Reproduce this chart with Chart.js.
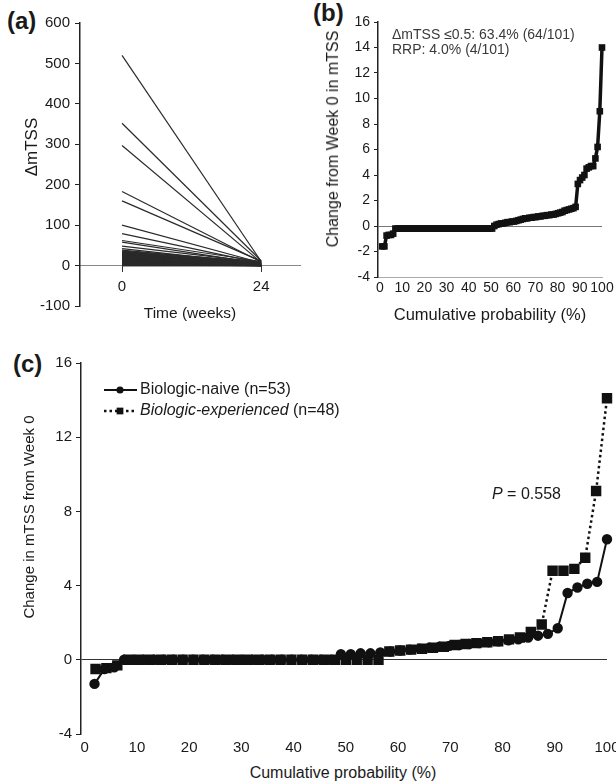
<!DOCTYPE html>
<html>
<head>
<meta charset="utf-8">
<script src="https://cdn.jsdelivr.net/npm/chart.js@4.4.1/dist/chart.umd.min.js"></script>
<style>
  body { margin: 0; width: 616px; height: 782px; position: relative; overflow: hidden; background: #fff;
         font-family: 'Liberation Sans', Arial, sans-serif; color: #1a1a1a; }
  canvas { position: absolute; }
  .tag { position: absolute; font-weight: bold; font-size: 24px; line-height: 1; }
  .title { position: absolute; white-space: nowrap; line-height: 1; transform: translate(-50%, -50%); }
  .ytitle { transform: translate(-50%, -50%) rotate(-90deg); }
</style>
</head>
<body>
<div class="tag" style="left:7px;top:9px">(a)</div>
<div class="tag" style="left:313px;top:1px">(b)</div>
<div class="tag" style="left:13px;top:352px">(c)</div>

<canvas id="chartA" width="310" height="320" style="left:0;top:0"></canvas>
<canvas id="chartB" width="330" height="300" style="left:300px;top:0"></canvas>
<canvas id="chartC" width="640" height="420" style="left:0;top:340px"></canvas>

<div class="title ytitle" style="left:31px;top:147px;font-size:17px">ΔmTSS</div>
<div class="title" style="left:190px;top:313px;font-size:15.5px">Time (weeks)</div>
<div class="title ytitle" style="left:333px;top:139px;font-size:16px">Change from Week 0 in mTSS</div>
<div class="title" style="left:490px;top:314px;font-size:16.5px">Cumulative probability (%)</div>
<div class="title ytitle" style="left:28px;top:517px;font-size:15px">Change in mTSS from Week 0</div>
<div class="title" style="left:343px;top:773px;font-size:16px">Cumulative probability (%)</div>

<script>
// panel (a): individual patients, week 0 -> week 24
const weekTicks = [0, 24];
const week0Values = [520, 352, 297, 183, 160, 100, 79, 62, 58, 48,
  42, 38, 36, 35, 34, 33, 32, 31, 30, 29,
  28, 27, 26, 25, 24, 23, 22, 21, 20, 19,
  18, 17, 16, 15, 14, 13, 12, 11, 10, 9,
  8, 7, 6, 5, 4, 3, 2, 1, 0, 0];
const week24Values = [10, 12, 8, 9, 11, 7, 6, 10, 5, 8,
  4, 6, 9, 3, 7, 5, 2, 8, 4, 6,
  3, 5, 1, 7, 2, 4, 6, 0, 3, 5,
  1, 2, 4, 0, 3, 1, 2, 0, 1, 3,
  0, 2, 1, 0, 1, 0, 0, 0, 0, 0];

// panel (b): all patients (n=101), sorted change
const changeAll = [-1.6, -1.6, -0.75, -0.7, -0.7, -0.6,
  -0.2, -0.2, -0.2, -0.2, -0.2, -0.2, -0.2, -0.2, -0.2, -0.2, -0.2, -0.2, -0.2, -0.2, -0.2,
  -0.2, -0.2, -0.2, -0.2, -0.2, -0.2, -0.2, -0.2, -0.2, -0.2, -0.2, -0.2, -0.2, -0.2, -0.2,
  -0.2, -0.2, -0.2, -0.2, -0.2, -0.2, -0.2, -0.2, -0.2, -0.2, -0.2, -0.2, -0.2, -0.2, -0.2,
  0.0, 0.1, 0.15, 0.2, 0.2, 0.25, 0.3, 0.3, 0.35, 0.35, 0.4, 0.45, 0.5,
  0.55, 0.6, 0.6, 0.65, 0.65, 0.7, 0.7, 0.75, 0.75, 0.8, 0.8, 0.85, 0.85,
  0.9, 0.9, 0.95, 1.0, 1.05, 1.1, 1.2, 1.25, 1.3, 1.35, 1.4, 1.5,
  3.3, 3.6, 3.8, 4.0, 4.5, 4.6, 4.7, 4.7, 5.3, 6.2, 9.0, 14.0];
const notesB = ['ΔmTSS ≤0.5: 63.4% (64/101)', 'RRP: 4.0% (4/101)'];

// panel (c): by prior biologic use
const changeNaive = [-1.3, -0.5, -0.4,
  0, 0, 0, 0, 0, 0, 0, 0, 0, 0, 0, 0, 0, 0, 0, 0, 0, 0, 0, 0, 0, 0,
  0.3, 0.3, 0.35, 0.35, 0.4, 0.45, 0.5, 0.55, 0.6, 0.65, 0.7, 0.75, 0.8, 0.85,
  0.9, 0.95, 1.0, 1.05, 1.1, 1.2, 1.3, 1.4, 1.7, 3.6, 3.9, 4.1, 4.2, 6.5];
const changeExperienced = [-0.5, -0.45, -0.3,
  0, 0, 0, 0, 0, 0, 0, 0, 0, 0, 0, 0, 0, 0, 0, 0, 0, 0, 0, 0, 0, 0, 0, 0,
  0.45, 0.5, 0.55, 0.6, 0.65, 0.7, 0.8, 0.85, 0.9, 0.95, 1.0, 1.1, 1.2,
  1.5, 1.9, 4.8, 4.8, 4.9, 5.5, 9.1, 14.1];
const groupNames = ['Biologic-naive', 'Biologic-experienced'];
const groupCounts = ['(n=53)', '(n=48)'];
const pValueText = '0.558';

const FONT = "'Liberation Sans', Arial, sans-serif";
const INK = '#1a1a1a';
Chart.defaults.font.family = FONT;
Chart.defaults.color = INK;

// sorted values -> cumulative probability points
function cumulative(values) {
  return values.map((v, i) => ({ x: (i + 1) / values.length * 100, y: v }));
}

const baseOptions = {
  responsive: false,
  animation: false,
  events: [],
  plugins: { legend: { display: false }, tooltip: { enabled: false } }
};

// (a)
new Chart(document.getElementById('chartA'), {
  type: 'line',
  data: {
    datasets: week0Values.map((v, i) => ({
      data: [{ x: weekTicks[0], y: v }, { x: weekTicks[1], y: week24Values[i] }],
      borderColor: '#2a2a2a',
      borderWidth: 1.2,
      pointRadius: 0
    }))
  },
  options: {
    ...baseOptions,
    layout: { padding: { left: 0, right: 10, top: 23, bottom: 0 } },
    scales: {
      x: {
        type: 'linear',
        min: -7.25,
        max: 30.7,
        position: { y: 0 },
        afterBuildTicks: s => { s.ticks = weekTicks.map(v => ({ value: v })); },
        afterFit: s => { s.height = 42; },
        grid: { drawOnChartArea: false, tickLength: 6, tickColor: '#333' },
        border: { color: '#888', width: 1 },
        ticks: { padding: 6, font: { size: 15 }, color: INK }
      },
      y: {
        min: -100,
        max: 600,
        afterFit: s => { s.width = 80; },
        grid: { drawOnChartArea: false, tickLength: 5, tickColor: '#222' },
        border: { color: '#222', width: 1.5 },
        ticks: { stepSize: 100, padding: 5, font: { size: 15 }, color: INK }
      }
    }
  }
});

// (b)
const notesPlugin = {
  id: 'notes',
  afterDraw(chart) {
    const ctx = chart.ctx;
    ctx.save();
    ctx.font = '14px ' + FONT;
    ctx.fillStyle = '#3a3a3a';
    ctx.textBaseline = 'middle';
    notesB.forEach((t, i) => ctx.fillText(t, 92, 35 + i * 15));
    ctx.restore();
  }
};

new Chart(document.getElementById('chartB'), {
  type: 'line',
  data: {
    datasets: [{
      data: cumulative(changeAll),
      borderColor: '#111',
      backgroundColor: '#111',
      borderWidth: 3.5,
      pointStyle: 'rect',
      pointRadius: 2.2,
      clip: false
    }]
  },
  options: {
    ...baseOptions,
    layout: { padding: { left: 0, right: 28, top: 22, bottom: 0 } },
    scales: {
      x: {
        type: 'linear',
        min: -0.9,
        max: 100,
        afterFit: s => { s.height = 23; },
        grid: { display: false, drawTicks: false },
        border: { display: true, color: '#aaa', width: 1 },
        ticks: { stepSize: 10, includeBounds: false, padding: 3, font: { size: 14 }, color: INK, maxRotation: 0, autoSkip: false }
      },
      y: {
        min: -4,
        max: 16,
        afterFit: s => { s.width = 78; },
        grid: {
          color: c => (c.tick && c.tick.value === 0 ? '#777' : 'rgba(0,0,0,0)'),
          tickColor: '#222',
          tickLength: 4
        },
        border: { color: '#222', width: 1.5 },
        ticks: { stepSize: 2, padding: 4, font: { size: 14 }, color: INK }
      }
    }
  },
  plugins: [notesPlugin]
});

// (c)
const legendPlugin = {
  id: 'lineLegend',
  afterDraw(chart) {
    const ctx = chart.ctx;
    ctx.save();
    chart.data.datasets.forEach((ds, i) => {
      const y = 50 + i * 21;
      ctx.strokeStyle = ds.borderColor;
      ctx.fillStyle = ds.borderColor;
      ctx.lineWidth = ds.borderWidth;
      ctx.setLineDash(ds.borderDash || []);
      ctx.beginPath();
      ctx.moveTo(104, y);
      ctx.lineTo(137, y);
      ctx.stroke();
      ctx.setLineDash([]);
      Chart.helpers.drawPoint(ctx, { pointStyle: ds.pointStyle, radius: ds.pointRadius * 0.85, borderWidth: 0, rotation: 0 }, 120, y);
      ctx.textBaseline = 'middle';
      ctx.fillStyle = INK;
      ctx.font = (i === 1 ? 'italic ' : '') + '16px ' + FONT;
      ctx.fillText(groupNames[i], 140, y);
      const w = ctx.measureText(groupNames[i] + ' ').width;
      ctx.font = '16px ' + FONT;
      ctx.fillText(groupCounts[i], 140 + w, y);
    });
    // p value
    ctx.font = 'italic 16px ' + FONT;
    ctx.fillText('P', 492, 155);
    const pw = ctx.measureText('P').width;
    ctx.font = '16px ' + FONT;
    ctx.fillText(' = ' + pValueText, 492 + pw, 155);
    ctx.restore();
  }
};

new Chart(document.getElementById('chartC'), {
  type: 'line',
  data: {
    datasets: [{
      label: groupNames[0],
      data: cumulative(changeNaive),
      borderColor: '#111',
      backgroundColor: '#111',
      borderWidth: 2,
      pointStyle: 'circle',
      pointRadius: 4.2,
      clip: false
    }, {
      label: groupNames[1],
      data: cumulative(changeExperienced),
      borderColor: '#111',
      backgroundColor: '#111',
      borderWidth: 2.5,
      borderDash: [2.5, 3],
      pointStyle: 'rect',
      pointRadius: 5.6,
      clip: false
    }]
  },
  options: {
    ...baseOptions,
    layout: { padding: { left: 0, right: 33, top: 23, bottom: 0 } },
    scales: {
      x: {
        type: 'linear',
        min: -0.7,
        max: 100,
        afterFit: s => { s.height = 26; },
        grid: { display: false, drawTicks: false },
        border: { display: false },
        ticks: { stepSize: 10, includeBounds: false, padding: 5, font: { size: 15 }, color: INK, maxRotation: 0, autoSkip: false }
      },
      y: {
        min: -4,
        max: 16,
        afterFit: s => { s.width = 81; },
        grid: {
          color: c => (c.tick && c.tick.value === 0 ? '#333' : 'rgba(0,0,0,0)'),
          tickColor: '#222',
          tickLength: 5
        },
        border: { color: '#222', width: 1.5 },
        ticks: { stepSize: 4, padding: 4, font: { size: 15 }, color: INK }
      }
    }
  },
  plugins: [legendPlugin]
});
</script>
</body>
</html>
